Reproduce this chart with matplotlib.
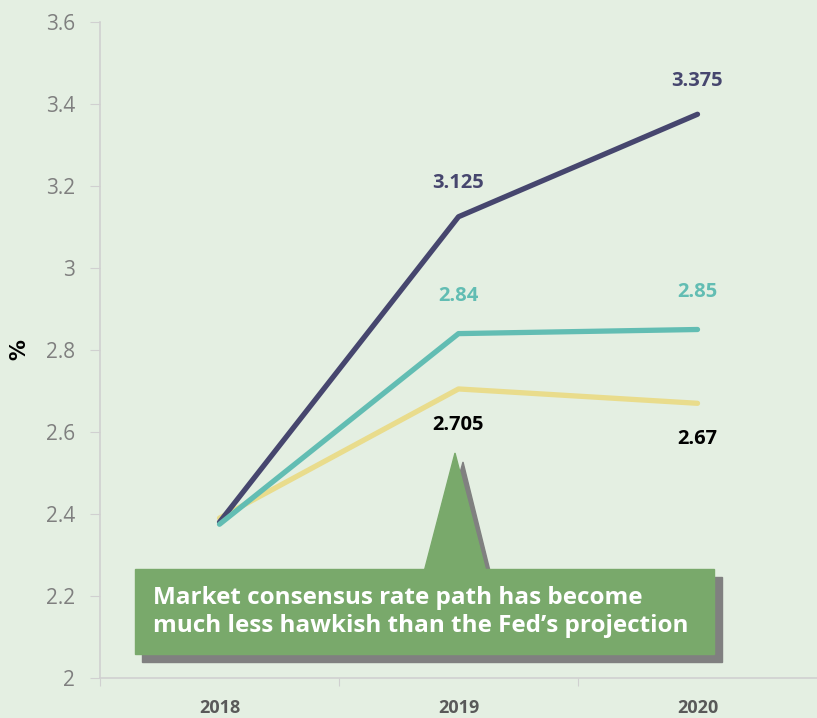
import numpy as np
import matplotlib
matplotlib.use("Agg")
import matplotlib.pyplot as plt
from matplotlib.patches import Rectangle, Polygon

years = ["2018", "2019", "2020"]
fed_dots = [2.38, 3.125, 3.375]
survey = [2.375, 2.84, 2.85]
market = [2.39, 2.705, 2.67]

navy = "#46466e"
teal = "#62bdb3"
yellow = "#e9dc8c"
bg = "#e4efe2"
box_green = "#79a96b"

W, H = 817, 718
fig = plt.figure(figsize=(W / 100, H / 100), dpi=100, facecolor=bg)
ax = fig.add_axes([100 / W, 40 / H, 717 / W, 656 / H], facecolor=bg)

x = np.arange(len(years))
ax.plot(x, fed_dots, color=navy, lw=3.8, solid_capstyle="round", zorder=3)
ax.plot(x, market, color=yellow, lw=3.8, solid_capstyle="round", zorder=2)
ax.plot(x, survey, color=teal, lw=3.8, solid_capstyle="round", zorder=3)

lab = dict(ha="center", va="center", fontsize=14.5, fontweight="bold", family="Open Sans")
for i in (1, 2):
    ax.annotate(f"{fed_dots[i]:g}", (x[i], fed_dots[i]), xytext=(0, 24),
                textcoords="offset points", color=navy, **lab)
    ax.annotate(f"{survey[i]:g}", (x[i], survey[i]), xytext=(0, 27),
                textcoords="offset points", color=teal, **lab)
    ax.annotate(f"{market[i]:g}", (x[i], market[i]), xytext=(0, -26),
                textcoords="offset points", color="black", **lab)

ax.set_xlim(-0.5, 2.5)
ax.set_ylim(2, 3.6)
ax.set_yticks(np.arange(2, 3.61, 0.2))
ax.set_yticklabels(["2", "2.2", "2.4", "2.6", "2.8", "3", "3.2", "3.4", "3.6"])
ax.set_xticks([-0.5, 0.5, 1.5])
ax.set_xticklabels([])
ax.set_xticks(x, minor=True)
ax.set_xticklabels(years, minor=True, fontsize=13, fontweight="bold",
                   color="#595959", family="Open Sans")
ax.tick_params(axis="x", which="minor", length=0, pad=15)
ax.tick_params(axis="x", which="major", length=6, color="#d0d0d0")
ax.tick_params(axis="y", length=7, color="#d0d0d0", labelcolor="#7f7f7f",
               labelsize=15, pad=11)
for lbl in ax.get_yticklabels():
    lbl.set_family("Open Sans")
for s in ("top", "right"):
    ax.spines[s].set_visible(False)
for s in ("left", "bottom"):
    ax.spines[s].set_color("#d0d0d0")
    ax.spines[s].set_linewidth(1.2)
ax.set_ylabel("%", fontsize=15, fontweight="bold", labelpad=12)


def fx(px):
    return px / W


def fy(py):
    return 1 - py / H


# callout shadow
fig.patches.append(Polygon([(fx(432), fy(575)), (fx(463), fy(462)), (fx(491), fy(575))],
                           closed=True, transform=fig.transFigure, color="#808080", zorder=5))
fig.patches.append(Rectangle((fx(142), fy(662)), fx(722) - fx(142), fy(577) - fy(662),
                             transform=fig.transFigure, color="#808080", zorder=5))
# callout body
fig.patches.append(Polygon([(fx(424), fy(572)), (fx(455), fy(453)), (fx(486), fy(572))],
                           closed=True, transform=fig.transFigure, color=box_green, zorder=6))
fig.patches.append(Rectangle((fx(135), fy(654)), fx(714) - fx(135), fy(569) - fy(654),
                             transform=fig.transFigure, color=box_green, zorder=6))
fig.text(fx(153), fy(612), "Market consensus rate path has become\nmuch less hawkish than the Fed’s projection",
         color="white", fontsize=17.5, fontweight="bold", family="Open Sans",
         va="center", ha="left", linespacing=1.25, zorder=7)

fig.savefig("out.png", dpi=100, facecolor=bg)
